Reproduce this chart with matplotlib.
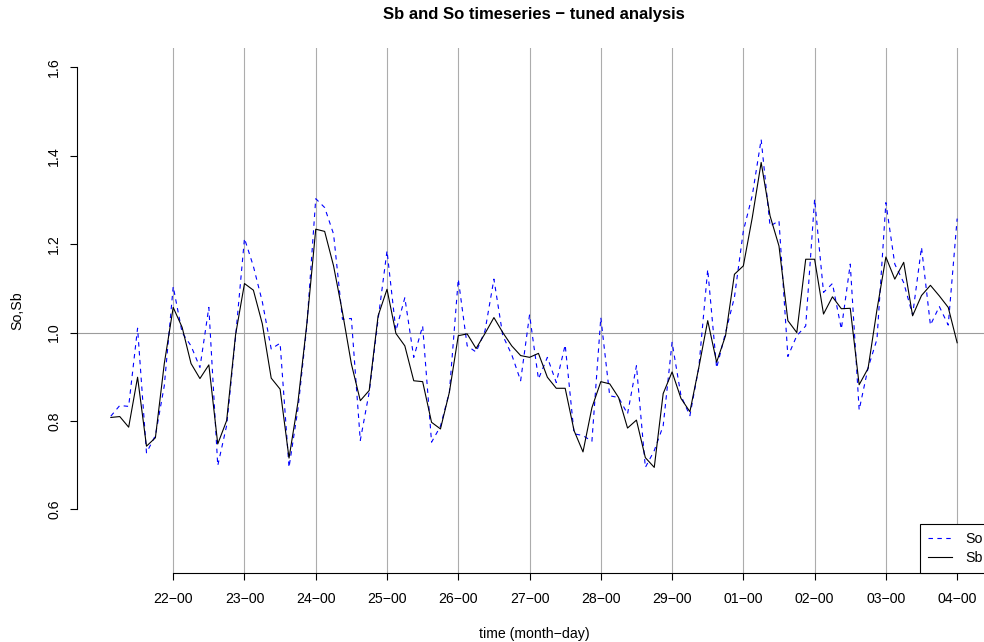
import matplotlib
matplotlib.use("Agg")
import matplotlib.pyplot as plt
import matplotlib.dates as mdates
import pandas as pd

plt.rcParams["font.family"] = ["Liberation Sans", "DejaVu Sans"]

# 3-hourly series, 21 Feb 03:00 to 04 Mar 00:00
start_time = "2020-02-21 03:00"
step = "3h"

so_values = [
    0.811, 0.835, 0.833, 1.010, 0.728, 0.767, 0.880, 1.104,
    1.000, 0.970, 0.921, 1.057, 0.699, 0.790, 0.990, 1.213,
    1.150, 1.070, 0.963, 0.976, 0.695, 0.827, 1.015, 1.303,
    1.283, 1.223, 1.030, 1.032, 0.756, 0.865, 1.030, 1.185,
    1.004, 1.079, 0.944, 1.015, 0.752, 0.788, 0.865, 1.121,
    0.970, 0.956, 1.004, 1.121, 0.993, 0.950, 0.891, 1.040,
    0.895, 0.944, 0.887, 0.972, 0.771, 0.767, 0.754, 1.034,
    0.857, 0.853, 0.816, 0.925, 0.695, 0.733, 0.789, 0.978,
    0.857, 0.812, 0.921, 1.143, 0.920, 1.000, 1.080, 1.230,
    1.310, 1.437, 1.241, 1.253, 0.946, 0.993, 1.015, 1.302,
    1.091, 1.111, 1.008, 1.155, 0.825, 0.920, 0.985, 1.294,
    1.155, 1.113, 1.040, 1.193, 1.017, 1.059, 1.017, 1.258,
]

sb_values = [
    0.808, 0.810, 0.786, 0.899, 0.743, 0.762, 0.930, 1.057,
    1.012, 0.930, 0.896, 0.927, 0.748, 0.801, 0.995, 1.111,
    1.096, 1.020, 0.897, 0.872, 0.716, 0.842, 1.020, 1.234,
    1.229, 1.151, 1.046, 0.929, 0.846, 0.869, 1.038, 1.098,
    0.998, 0.970, 0.891, 0.889, 0.797, 0.782, 0.865, 0.993,
    0.997, 0.964, 0.998, 1.034, 1.000, 0.970, 0.948, 0.944,
    0.953, 0.899, 0.874, 0.874, 0.778, 0.730, 0.830, 0.889,
    0.884, 0.853, 0.784, 0.802, 0.717, 0.695, 0.862, 0.911,
    0.851, 0.821, 0.921, 1.027, 0.933, 0.993, 1.132, 1.151,
    1.260, 1.385, 1.264, 1.196, 1.027, 1.000, 1.166, 1.166,
    1.042, 1.081, 1.054, 1.055, 0.882, 0.919, 1.052, 1.171,
    1.121, 1.159, 1.038, 1.084, 1.107, 1.083, 1.057, 0.977,
]

tick_times = [
    "2020-02-22", "2020-02-23", "2020-02-24", "2020-02-25",
    "2020-02-26", "2020-02-27", "2020-02-28", "2020-02-29",
    "2020-03-01", "2020-03-02", "2020-03-03", "2020-03-04",
]
tick_labels = [
    "22\u221200", "23\u221200", "24\u221200", "25\u221200",
    "26\u221200", "27\u221200", "28\u221200", "29\u221200",
    "01\u221200", "02\u221200", "03\u221200", "04\u221200",
]
y_ticks = [0.6, 0.8, 1.0, 1.2, 1.4, 1.6]
y_labels = ["0.6", "0.8", "1.0", "1.2", "1.4", "1.6"]

times = mdates.date2num(pd.date_range(start_time, periods=len(so_values),
                                      freq=step).to_pydatetime())
ticks = mdates.date2num(pd.to_datetime(tick_times).to_pydatetime())

W, H = 984, 642
fig = plt.figure(figsize=(W / 100, H / 100), dpi=100)
ax = fig.add_axes([77 / W, (H - 573) / H, 914 / W, 525 / H])

FS = 10.2

for t in ticks:
    ax.axvline(t, color="#acacac", lw=0.8, zorder=0)
ax.axhline(1.0, color="#9c9c9c", lw=0.8, zorder=0)

l_so, = ax.plot(times, so_values, color="#0000ff", lw=0.8,
                linestyle=(0, (4, 4)), zorder=2)
l_sb, = ax.plot(times, sb_values, color="black", lw=0.8, zorder=3)

# R-style 4% padding around the data
span = times[-1] - times[0]
ax.set_xlim(times[0] - 0.04 * span, times[-1] + 0.04 * span)
ax.set_ylim(0.456, 1.644)

ax.set_xticks(ticks)
ax.set_xticklabels(tick_labels, fontsize=FS)
ax.set_yticks(y_ticks)
ax.set_yticklabels(y_labels, fontsize=FS, rotation=90, va="center")

for s in ("top", "right"):
    ax.spines[s].set_visible(False)
ax.spines["left"].set_bounds(0.6, 1.6)
ax.spines["bottom"].set_bounds(ticks[0], ticks[-1])
for s in ("left", "bottom"):
    ax.spines[s].set_linewidth(0.8)

ax.tick_params(axis="x", length=5.2, width=0.8, pad=8.5)
ax.tick_params(axis="y", length=5.4, width=0.8, pad=6)

ax.set_ylabel("So,Sb", fontsize=FS, va="center")
ax.yaxis.set_label_coords(-(77 - 17) / 914, 0.5)
ax.set_xlabel("time (month\u2212day)", fontsize=FS, va="center")
ax.xaxis.set_label_coords(0.5, -(634 - 573) / 525)

ax.set_title("Sb and So timeseries \u2212 tuned analysis",
             fontsize=12.0, fontweight="bold", va="center", pad=0,
             y=1 + (48 - 15) / 525)

leg = ax.legend([l_so, l_sb], ["So", "Sb"], loc="lower right",
                bbox_to_anchor=(1, 0), borderaxespad=0, fontsize=FS,
                frameon=True, fancybox=False, edgecolor="black",
                framealpha=1, handlelength=1.7, handletextpad=0.9,
                borderpad=0.6, labelspacing=0.3)
leg.get_frame().set_linewidth(0.8)

fig.savefig("out.png", dpi=100)
